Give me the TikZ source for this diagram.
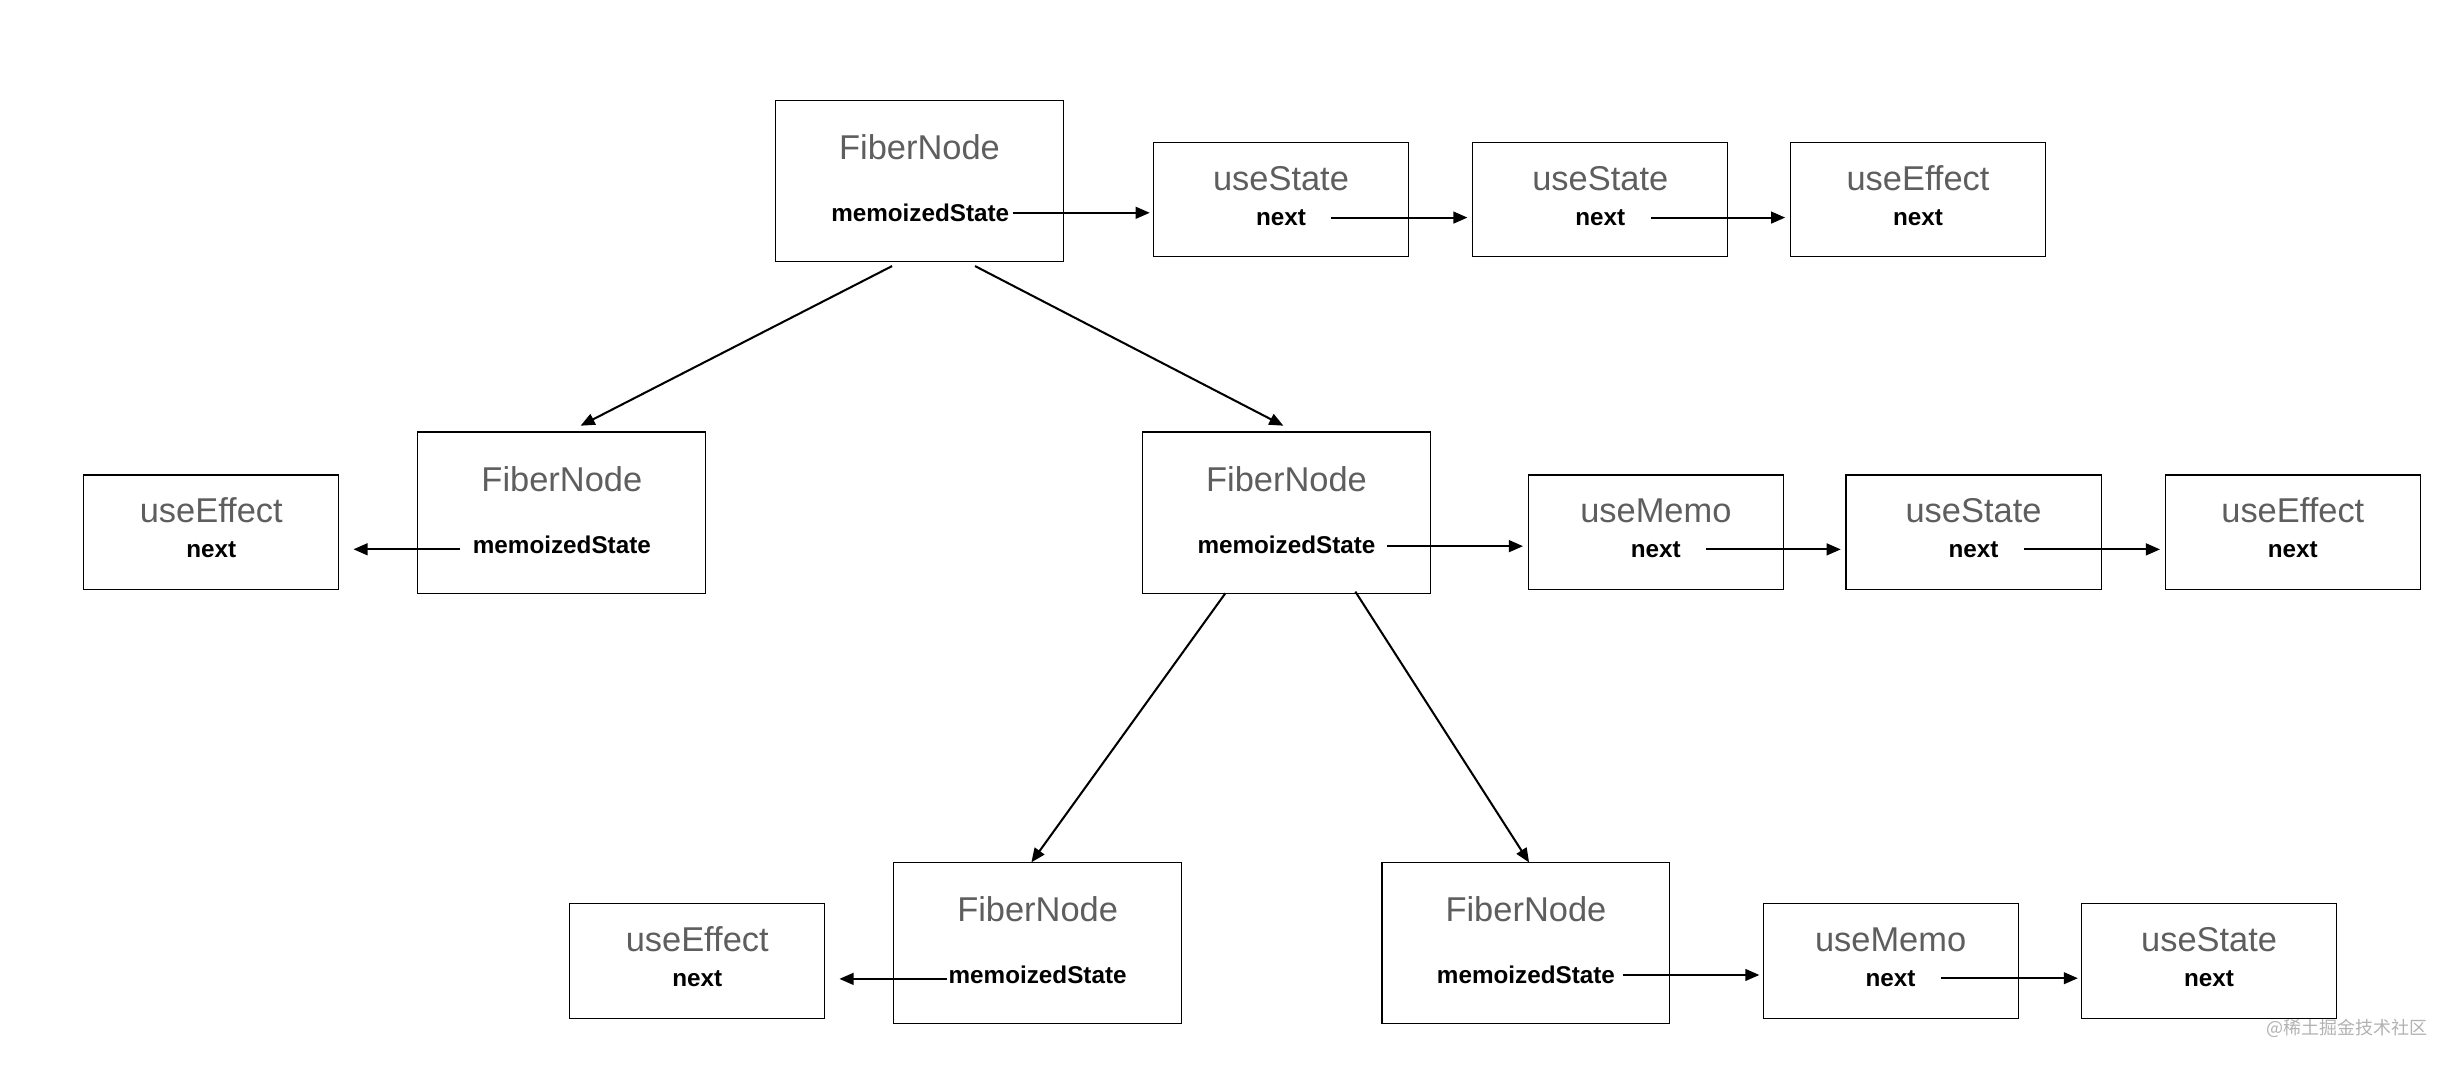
\documentclass[tikz,border=0pt]{standalone}
\usepackage{fontspec}
\setmainfont{Liberation Sans}
\newfontfamily\cjk{Noto Sans CJK SC}
\usetikzlibrary{arrows.meta}
\definecolor{titlegray}{HTML}{5E5E5E}
\tikzset{
  bigbox/.style={draw=black, line width=0.7pt, minimum width=184pt, minimum height=103pt, inner sep=0pt},
  hookbox/.style={draw=black, line width=0.7pt, minimum width=163pt, minimum height=73pt, inner sep=0pt},
  title/.style={text=titlegray, font=\fontsize{22}{24}\selectfont, inner sep=0pt, anchor=base},
  field/.style={text=black, font=\fontsize{15.5}{17}\selectfont\bfseries, inner sep=0pt, anchor=base},
  link/.style={line width=1.3pt, -{Triangle[length=9pt,width=7.5pt]}},
}
\begin{document}
\begin{tikzpicture}[x=1pt, y=-1pt]
\useasboundingbox (0,0) rectangle (1568,681);

% ---- root fiber and its hook list ----
\node[bigbox]  (f1) at (587.5,115.5) {};
\node[title]   (f1t) at (587.5,102) {FiberNode};
\node[field]   (f1m) at (588,141.5) {memoizedState};

\node[hookbox] (s1) at (818.5,127.5) {};
\node[title]   (s1t) at (818.5,122) {useState};
\node[field]   (s1n) at (818.5,144) {next};

\node[hookbox] (s2) at (1022.5,127.5) {};
\node[title]   (s2t) at (1022.5,122) {useState};
\node[field]   (s2n) at (1022.5,144) {next};

\node[hookbox] (e1) at (1225.5,127.5) {};
\node[title]   (e1t) at (1225.5,122) {useEffect};
\node[field]   (e1n) at (1225.5,144) {next};

\draw[link, shorten <=2pt, shorten >=2pt] (f1m.east) -- (f1m.east -| s1.west);
\draw[link, shorten <=16pt, shorten >=3pt] (s1n.east) -- (s1n.east -| s2.west);
\draw[link, shorten <=16pt, shorten >=3pt] (s2n.east) -- (s2n.east -| e1.west);

% ---- left child fiber ----
\node[bigbox]  (f2) at (359,327.5) {};
\node[title]   (f2t) at (359,314) {FiberNode};
\node[field]   (f2m) at (359,353.5) {memoizedState};

\node[hookbox] (e2) at (135,340) {};
\node[title]   (e2t) at (135,334) {useEffect};
\node[field]   (e2n) at (135,356) {next};

\draw[link, shorten <=8pt, shorten >=9pt] ([yshift=-3pt]f2m.west) -- ([yshift=-3pt]f2m.west -| e2.east);

% ---- right child fiber ----
\node[bigbox]  (f3) at (822,327.5) {};
\node[title]   (f3t) at (822,314) {FiberNode};
\node[field]   (f3m) at (822,353.5) {memoizedState};

\node[hookbox] (m3) at (1058,340) {};
\node[title]   (m3t) at (1058,334) {useMemo};
\node[field]   (m3n) at (1058,356) {next};

\node[hookbox] (s3) at (1261,340) {};
\node[title]   (s3t) at (1261,334) {useState};
\node[field]   (s3n) at (1261,356) {next};

\node[hookbox] (e3) at (1465,340) {};
\node[title]   (e3t) at (1465,334) {useEffect};
\node[field]   (e3n) at (1465,356) {next};

\draw[link, shorten <=7pt, shorten >=3pt] ([yshift=-1pt]f3m.east) -- ([yshift=-1pt]f3m.east -| m3.west);
\draw[link, shorten <=16pt, shorten >=3pt] (m3n.east) -- (m3n.east -| s3.west);
\draw[link, shorten <=16pt, shorten >=3pt] (s3n.east) -- (s3n.east -| e3.west);

% ---- grandchildren ----
\node[bigbox]  (f4) at (663,602.5) {};
\node[title]   (f4t) at (663,589) {FiberNode};
\node[field]   (f4m) at (663,628.5) {memoizedState};

\node[hookbox] (e4) at (445.5,614) {};
\node[title]   (e4t) at (445.5,608) {useEffect};
\node[field]   (e4n) at (445.5,630) {next};

\draw[link, shorten <=1pt, shorten >=9pt] ([yshift=-2.5pt]f4m.west) -- ([yshift=-2.5pt]f4m.west -| e4.east);

\node[bigbox]  (f5) at (975,602.5) {};
\node[title]   (f5t) at (975,589) {FiberNode};
\node[field]   (f5m) at (975,628.5) {memoizedState};

\node[hookbox] (m5) at (1208,614) {};
\node[title]   (m5t) at (1208,608) {useMemo};
\node[field]   (m5n) at (1208,630) {next};

\node[hookbox] (s5) at (1411.5,614) {};
\node[title]   (s5t) at (1411.5,608) {useState};
\node[field]   (s5n) at (1411.5,630) {next};

\draw[link, shorten <=5pt, shorten >=2pt] (f5m.east) -- (f5m.east -| m5.west);
\draw[link, shorten <=16pt, shorten >=2pt] (m5n.east) -- (m5n.east -| s5.west);

% ---- tree edges ----
\coordinate (r1) at (570,170);
\coordinate (r2) at (623,170);
\coordinate (c1) at (371,272);
\coordinate (c2) at (820,272);
\coordinate (d1) at (783,379);
\coordinate (d2) at (866,378);
\coordinate (g1) at (659,551);
\coordinate (g2) at (977,551);
\draw[link] (r1) -- (c1);
\draw[link] (r2) -- (c2);
\draw[link] (d1) -- (g1);
\draw[link] (d2) -- (g2);

% ---- watermark ----
\node[text=black!30, font=\cjk\fontsize{11.5}{13}\selectfont, inner sep=0pt, anchor=east] (wm) at (1551,657) {@稀土掘金技术社区};
\end{tikzpicture}
\end{document}
